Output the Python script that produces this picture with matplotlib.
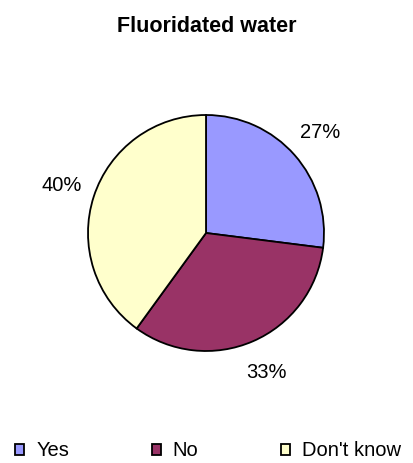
import matplotlib.pyplot as plt

plt.rcParams['font.family'] = ['Liberation Sans', 'DejaVu Sans']

labels = ['Yes', 'No', "Don't know"]
shares = [27, 33, 40]
colors = ['#9999FF', '#993366', '#FFFFCC']

fig = plt.figure(figsize=(4.14, 4.63), dpi=100)

# pie centre at (206, 233) px, radius 118 px; axes limits +-1.5
r_px = 118
lim = 1.5
w = 2 * r_px * lim
ax = fig.add_axes([(206 - r_px * lim) / 414, (463 - 233 - r_px * lim) / 463,
                   w / 414, w / 463])
wedges, texts, autotexts = ax.pie(
    shares, colors=colors, startangle=90, counterclock=False,
    autopct='%d%%', pctdistance=1.29, radius=1,
    wedgeprops=dict(edgecolor='black', linewidth=1.3),
    textprops=dict(fontsize=14.5, color='black'))
ax.set_xlim(-lim, lim)
ax.set_ylim(-lim, lim)
ax.set_aspect('equal')
ax.axis('off')

fig.text(0.5, 1 - 27 / 463, 'Fluoridated water', ha='center', va='center',
         fontsize=15.5, fontweight='bold')

fig.legend(wedges, labels, loc='center left', bbox_to_anchor=(15 / 414, 1 - 451 / 463),
           ncol=3, frameon=False, fontsize=14.5, handlelength=0.45, handleheight=0.45,
           handletextpad=0.6, columnspacing=4.1, borderaxespad=0, borderpad=0)

fig.savefig('out.png', dpi=100)
